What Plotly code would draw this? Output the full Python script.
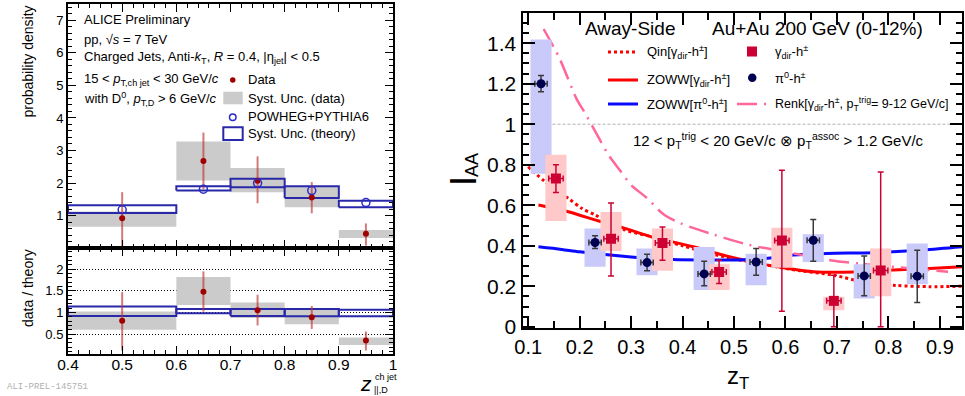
import plotly.graph_objects as go

FONT = "Liberation Sans, Arial, sans-serif"
W, H = 965, 396

# ---------------- Left panel data (ALICE D0-jet z) ----------------
bin_lo = [0.4, 0.6, 0.7, 0.8, 0.9]
bin_hi = [0.6, 0.7, 0.8, 0.9, 1.0]
z_c = [0.5, 0.65, 0.75, 0.85, 0.95]

data_pd = [0.92, 2.68, 2.07, 1.56, 0.44]
data_err_up = [0.80, 0.87, 0.75, 0.47, 0.32]
data_err_dn = [0.93, 0.86, 0.69, 0.49, 0.36]
data_sys_lo = [0.66, 2.08, 1.72, 1.26, 0.31]
data_sys_hi = [1.13, 3.28, 2.46, 1.89, 0.56]

theory_pd = [1.18, 1.81, 2.00, 1.77, 1.40]
theory_sys_lo = [1.08, 1.77, 1.87, 1.54, 1.26]
theory_sys_hi = [1.32, 1.90, 2.13, 1.90, 1.46]

ratio = [0.81, 1.48, 1.05, 0.89, 0.35]
ratio_err_up = [0.66, 0.47, 0.36, 0.26, 0.21]
ratio_err_dn = [0.69, 0.46, 0.35, 0.27, 0.23]
ratio_sys_lo = [0.60, 1.17, 0.87, 0.73, 0.25]
ratio_sys_hi = [1.02, 1.82, 1.23, 1.06, 0.42]
ratio_th_lo = [0.92, 0.98, 0.92, 0.91, 0.91]
ratio_th_hi = [1.14, 1.08, 1.08, 1.08, 1.06]

# ---------------- Right panel data (IAA vs zT) ----------------
pi0_z = [0.125, 0.230, 0.331, 0.442, 0.543, 0.654, 0.753, 0.856]
pi0_iaa = [1.20, 0.416, 0.317, 0.261, 0.320, 0.427, 0.251, 0.250]
pi0_err_up = [0.04, 0.033, 0.041, 0.063, 0.066, 0.102, 0.099, 0.128]
pi0_err_dn = [0.04, 0.030, 0.041, 0.059, 0.065, 0.103, 0.098, 0.130]
pi0_sys_lo = [0.755, 0.296, 0.255, 0.181, 0.205, 0.320, 0.140, 0.210]
pi0_sys_hi = [1.418, 0.485, 0.386, 0.394, 0.361, 0.457, 0.309, 0.411]

gam_z = [0.154, 0.261, 0.361, 0.471, 0.593, 0.694, 0.785]
gam_iaa = [0.732, 0.434, 0.414, 0.271, 0.426, 0.128, 0.278]
gam_err_up = [0.068, 0.177, 0.079, 0.058, 0.347, 0.127, 0.486]
gam_err_dn = [0.069, 0.183, 0.085, 0.057, 0.349, 0.128, 0.278]
gam_sys_lo = [0.522, 0.374, 0.276, 0.181, 0.292, 0.082, 0.151]
gam_sys_hi = [0.849, 0.567, 0.485, 0.309, 0.489, 0.148, 0.386]

sys_half_width = 0.0205
pi0_xerr = 0.012
gam_xerr = 0.014

qin_z = [0.10, 0.133, 0.178, 0.204, 0.230, 0.288, 0.334, 0.40, 0.466, 0.563, 0.628, 0.693, 0.75, 0.816, 0.88, 0.943]
qin_v = [0.79, 0.716, 0.634, 0.585, 0.552, 0.478, 0.448, 0.400, 0.354, 0.305, 0.277, 0.255, 0.222, 0.204, 0.198, 0.200]

zg_z = [0.12, 0.178, 0.237, 0.288, 0.340, 0.421, 0.48, 0.512, 0.576, 0.654, 0.732, 0.809, 0.88, 0.943]
zg_v = [0.601, 0.568, 0.522, 0.486, 0.444, 0.395, 0.353, 0.333, 0.300, 0.272, 0.270, 0.280, 0.288, 0.296]

zp_z = [0.12, 0.165, 0.2, 0.3, 0.382, 0.45, 0.512, 0.576, 0.615, 0.68, 0.771, 0.868, 0.943]
zp_v = [0.395, 0.382, 0.37, 0.345, 0.332, 0.330, 0.330, 0.341, 0.354, 0.362, 0.366, 0.379, 0.395]

renk_z = [0.13, 0.16, 0.195, 0.207, 0.24, 0.256, 0.279, 0.30, 0.331, 0.363, 0.395, 0.457, 0.528, 0.60, 0.694, 0.75, 0.835, 0.916]
renk_v = [1.47, 1.33, 1.12, 1.07, 0.92, 0.848, 0.77, 0.70, 0.635, 0.555, 0.512, 0.458, 0.405, 0.37, 0.326, 0.31, 0.29, 0.272]


def px(x):
    return x / W


def py(y):
    return 1 - y / H


def rect_path(lo_x, hi_x, lo_y, hi_y):
    xs, ys = [], []
    for a, b, c, d in zip(lo_x, hi_x, lo_y, hi_y):
        xs += [a, b, b, a, a, None]
        ys += [c, c, d, d, c, None]
    return xs, ys


fig = go.Figure()

# ---- left top ----
gx, gy = rect_path(bin_lo, bin_hi, data_sys_lo, data_sys_hi)
fig.add_trace(go.Scatter(x=gx, y=gy, mode="lines", fill="toself", fillcolor="#cbcbcb",
                         line=dict(width=0, color="rgba(0,0,0,0)"), xaxis="x", yaxis="y", hoverinfo="skip"))
bx, by = rect_path(bin_lo, bin_hi, theory_sys_lo, theory_sys_hi)
fig.add_trace(go.Scatter(x=bx, y=by, mode="lines", line=dict(width=2, color="#2828a8"),
                         xaxis="x", yaxis="y", hoverinfo="skip"))
fig.add_trace(go.Scatter(x=z_c, y=data_pd, mode="markers",
                         marker=dict(size=6, color="#a00000"),
                         error_y=dict(type="data", array=data_err_up, arrayminus=data_err_dn,
                                      color="rgba(190,50,50,0.65)", thickness=2, width=0),
                         xaxis="x", yaxis="y"))
fig.add_trace(go.Scatter(x=z_c, y=theory_pd, mode="markers",
                         marker=dict(size=8, symbol="circle-open", color="#2a2ac8", line=dict(width=1.5)),
                         xaxis="x", yaxis="y"))

# ---- left ratio ----
gx, gy = rect_path(bin_lo, bin_hi, ratio_sys_lo, ratio_sys_hi)
fig.add_trace(go.Scatter(x=gx, y=gy, mode="lines", fill="toself", fillcolor="#cbcbcb",
                         line=dict(width=0, color="rgba(0,0,0,0)"), xaxis="x2", yaxis="y2", hoverinfo="skip"))
bx, by = rect_path(bin_lo, bin_hi, ratio_th_lo, ratio_th_hi)
fig.add_trace(go.Scatter(x=bx, y=by, mode="lines", line=dict(width=2, color="#2828a8"),
                         xaxis="x2", yaxis="y2", hoverinfo="skip"))
fig.add_trace(go.Scatter(x=z_c, y=ratio, mode="markers",
                         marker=dict(size=6, color="#a00000"),
                         error_y=dict(type="data", array=ratio_err_up, arrayminus=ratio_err_dn,
                                      color="rgba(190,50,50,0.65)", thickness=2, width=0),
                         xaxis="x2", yaxis="y2"))

# ---- right panel ----
fig.add_trace(go.Scatter(x=qin_z, y=qin_v, mode="lines", line=dict(color="#ff0000", width=3, dash="3px,3px", shape="spline", smoothing=0.8),
                         xaxis="x3", yaxis="y3"))
fig.add_trace(go.Scatter(x=zg_z, y=zg_v, mode="lines", line=dict(color="#ff0000", width=3, shape="spline", smoothing=0.8),
                         xaxis="x3", yaxis="y3"))
fig.add_trace(go.Scatter(x=zp_z, y=zp_v, mode="lines", line=dict(color="#0a0aff", width=3, shape="spline", smoothing=0.8),
                         xaxis="x3", yaxis="y3"))
fig.add_trace(go.Scatter(x=renk_z, y=renk_v, mode="lines", line=dict(color="#ff6699", width=2.5, dash="20px,7px,2px,7px", shape="spline", smoothing=0.8),
                         xaxis="x3", yaxis="y3"))

px_lo = [z - sys_half_width for z in pi0_z]
px_hi = [z + sys_half_width for z in pi0_z]
bx, by = rect_path(px_lo, px_hi, pi0_sys_lo, pi0_sys_hi)
fig.add_trace(go.Scatter(x=bx, y=by, mode="lines", fill="toself", fillcolor="#c9c9fa",
                         line=dict(width=0, color="rgba(0,0,0,0)"), xaxis="x3", yaxis="y3", hoverinfo="skip"))
gl = [z - sys_half_width for z in gam_z]
gh = [z + sys_half_width for z in gam_z]
bx, by = rect_path(gl, gh, gam_sys_lo, gam_sys_hi)
fig.add_trace(go.Scatter(x=bx, y=by, mode="lines", fill="toself", fillcolor="#ffc9c9",
                         line=dict(width=0, color="rgba(0,0,0,0)"), xaxis="x3", yaxis="y3", hoverinfo="skip"))

fig.add_trace(go.Scatter(x=pi0_z, y=pi0_iaa, mode="markers",
                         marker=dict(size=9, color="#000050"),
                         error_y=dict(type="data", array=pi0_err_up, arrayminus=pi0_err_dn,
                                      color="#3a3a3a", thickness=1.5, width=3),
                         error_x=dict(type="constant", value=pi0_xerr, color="#3a3a3a", thickness=1.5, width=3),
                         xaxis="x3", yaxis="y3"))
fig.add_trace(go.Scatter(x=gam_z, y=gam_iaa, mode="markers",
                         marker=dict(size=10, symbol="square", color="#cc0033"),
                         error_y=dict(type="data", array=gam_err_up, arrayminus=gam_err_dn,
                                      color="#cc0033", thickness=1.5, width=3),
                         error_x=dict(type="constant", value=gam_xerr, color="#cc0033", thickness=1.5, width=3),
                         xaxis="x3", yaxis="y3"))

common = dict(showline=True, linecolor="black", mirror="allticks", ticks="inside",
              tickcolor="black", zeroline=False, automargin=False)

fig.update_layout(
    width=W, height=H, autosize=False,
    margin=dict(l=0, r=0, t=0, b=0, pad=0),
    paper_bgcolor="white", plot_bgcolor="white",
    showlegend=False,
    font=dict(family=FONT, color="black"),
    xaxis=dict(domain=[px(68), px(393)], range=[0.4, 1.0], anchor="y", showticklabels=False,
               tick0=0.4, dtick=0.1, ticklen=8, tickwidth=1, linewidth=2, showgrid=False,
               minor=dict(ticks="inside", dtick=0.02, tick0=0.4, ticklen=4, tickcolor="black", showgrid=False), **common),
    yaxis=dict(domain=[py(248), py(4)], range=[0.005, 7.5], anchor="x", tick0=0, dtick=1,
               ticklen=8, tickwidth=1, linewidth=2, tickfont=dict(size=13), showgrid=False,
               minor=dict(ticks="inside", dtick=0.2, tick0=0, ticklen=4, tickcolor="black", showgrid=False), **common),
    xaxis2=dict(domain=[px(68), px(393)], range=[0.4, 1.0], anchor="y2",
                tick0=0.4, dtick=0.1, ticklen=8, tickwidth=1, linewidth=2, tickfont=dict(size=15.5), showgrid=False,
                ticklabelstandoff=-5,
                minor=dict(ticks="inside", dtick=0.02, tick0=0.4, ticklen=4, tickcolor="black", showgrid=False), **common),
    yaxis2=dict(domain=[py(354), py(248)], range=[0.04, 2.49], anchor="x2", tick0=0, dtick=0.5,
                ticklen=8, tickwidth=1, linewidth=2, tickfont=dict(size=13),
                minor=dict(ticks="inside", dtick=0.1, tick0=0, ticklen=4, tickcolor="black", showgrid=False),
                showgrid=True, gridcolor="black", griddash="1px,2px", gridwidth=1, **common),
    xaxis3=dict(domain=[px(522.5), px(962)], range=[0.089, 0.943], anchor="y3",
                tick0=0.1, dtick=0.1, ticklen=12, tickwidth=1.5, linewidth=2, tickfont=dict(size=20), showgrid=False,
                minor=dict(ticks="inside", dtick=0.05, tick0=0.1, ticklen=7, tickcolor="black", showgrid=False), **common),
    yaxis3=dict(domain=[py(328), py(13)], range=[-0.006, 1.549], anchor="x3",
                tick0=0, dtick=0.2, ticklen=12, tickwidth=1.5, linewidth=2, tickfont=dict(size=21), showgrid=False,
                minor=dict(ticks="inside", dtick=0.05, tick0=0, ticklen=6, tickcolor="black", showgrid=False), **common),
)

shapes = []
# IAA = 1 reference line
shapes.append(dict(type="line", xref="x3 domain", yref="y3", x0=0, x1=1, y0=1, y1=1,
                   line=dict(color="#b0b0b0", width=1, dash="3px,2px"), layer="below"))

# ---- left legend glyphs ----
shapes.append(dict(type="circle", xref="paper", yref="paper", x0=px(230), x1=px(235.5), y0=py(82.7), y1=py(77.2),
                   fillcolor="#a00000", line=dict(width=0)))
shapes.append(dict(type="rect", xref="paper", yref="paper", x0=px(223.3), x1=px(242.7), y0=py(104.3), y1=py(91.7),
                   fillcolor="#cbcbcb", line=dict(width=0)))
shapes.append(dict(type="circle", xref="paper", yref="paper", x0=px(229.5), x1=px(236), y0=py(120.5), y1=py(114),
                   fillcolor="rgba(0,0,0,0)", line=dict(width=1.5, color="#2a2ac8")))
shapes.append(dict(type="rect", xref="paper", yref="paper", x0=px(223.3), x1=px(242.7), y0=py(140), y1=py(127.3),
                   fillcolor="rgba(0,0,0,0)", line=dict(width=2, color="#2828a8")))

# ---- right legend glyphs ----
shapes.append(dict(type="line", xref="paper", yref="paper", x0=px(608), x1=px(638), y0=py(52), y1=py(52),
                   line=dict(color="#ff0000", width=3, dash="3px,3px")))
shapes.append(dict(type="line", xref="paper", yref="paper", x0=px(608), x1=px(638), y0=py(80), y1=py(80),
                   line=dict(color="#ff0000", width=3)))
shapes.append(dict(type="line", xref="paper", yref="paper", x0=px(608), x1=px(638), y0=py(104), y1=py(104),
                   line=dict(color="#0a0aff", width=3)))
shapes.append(dict(type="rect", xref="paper", yref="paper", x0=px(747), x1=px(757), y0=py(56.5), y1=py(46.5),
                   fillcolor="#cc0033", line=dict(width=0)))
shapes.append(dict(type="circle", xref="paper", yref="paper", x0=px(748), x1=px(756.5), y0=py(82), y1=py(73.5),
                   fillcolor="#000050", line=dict(width=0)))
shapes.append(dict(type="line", xref="paper", yref="paper", x0=px(737), x1=px(768), y0=py(104), y1=py(104),
                   line=dict(color="#ff6699", width=2.5, dash="20px,7px,2px,7px")))
fig.update_layout(shapes=shapes)

ann = []


def txt(x, y, s, size, xanchor="left", yanchor="middle", color="black", family=FONT, angle=0):
    ann.append(dict(x=px(x), y=py(y), xref="paper", yref="paper", text=s, showarrow=False,
                    xanchor=xanchor, yanchor=yanchor, textangle=angle,
                    font=dict(size=size, color=color, family=family)))


# left panel texts
txt(81.5, 20, "ALICE Preliminary", 13)
txt(81.5, 39, "pp, √<i>s</i> = 7 TeV", 13)
txt(81.5, 58, "Charged Jets, Anti-<i>k</i><sub>T</sub>, <i>R</i> = 0.4, |η<sub>jet</sub>| &lt; 0.5", 13)
txt(81.5, 79, "15 &lt; <i>p</i><sub>T,ch jet</sub> &lt; 30 GeV/<i>c</i>", 13)
txt(81.5, 99, "with D<sup>0</sup>, <i>p</i><sub>T,D</sub> &gt; 6 GeV/<i>c</i>", 13)
txt(246, 80, "Data", 13)
txt(246, 98, "Syst. Unc. (data)", 13)
txt(246, 117, "POWHEG+PYTHIA6", 13)
txt(246, 133, "Syst. Unc. (theory)", 13)
txt(28, 61.5, "probability density", 14, xanchor="center", angle=-90)
txt(28, 288, "data / theory", 14, xanchor="center", angle=-90)
txt(366, 383, "<i>z</i>", 21, xanchor="center")
txt(373, 377, "ch jet", 9)
txt(372, 389.5, "||,D", 9)
txt(5, 387, "ALI-PREL-145751", 9, color="#b0b0b0", family="Liberation Mono, DejaVu Sans Mono, monospace")

# right panel texts
txt(583, 29, "Away-Side", 19)
txt(710, 29, "Au+Au 200 GeV (0-12%)", 19)
txt(645, 52, "Qin[γ<sub>dir</sub>-h<sup>±</sup>]", 13)
txt(645, 80, "ZOWW[γ<sub>dir</sub>-h<sup>±</sup>]", 13)
txt(645, 104, "ZOWW[π<sup>0</sup>-h<sup>±</sup>]", 13)
txt(773, 52, "γ<sub>dir</sub>-h<sup>±</sup>", 13)
txt(773, 78, "π<sup>0</sup>-h<sup>±</sup>", 13)
txt(773, 104, "Renk[γ<sub>dir</sub>-h<sup>±</sup>, p<sub>T</sub><sup>trig</sup>= 9-12 GeV/c]", 12.5)
txt(778, 140, "12 &lt; p<sub>T</sub><sup>trig</sup> &lt; 20 GeV/c ⊗ p<sub>T</sub><sup>assoc</sup> &gt; 1.2 GeV/c", 15, xanchor="center")
txt(463, 181, "I", 36, xanchor="center", angle=-90)
txt(472, 165, "AA", 18, xanchor="center", angle=-90)
txt(738, 377, "z<sub>T</sub>", 24, xanchor="center")

fig.update_layout(annotations=ann)

fig.write_html("out.html", config={"displayModeBar": False},
               post_script="document.body.style.margin='0px';document.body.style.padding='0px';")
